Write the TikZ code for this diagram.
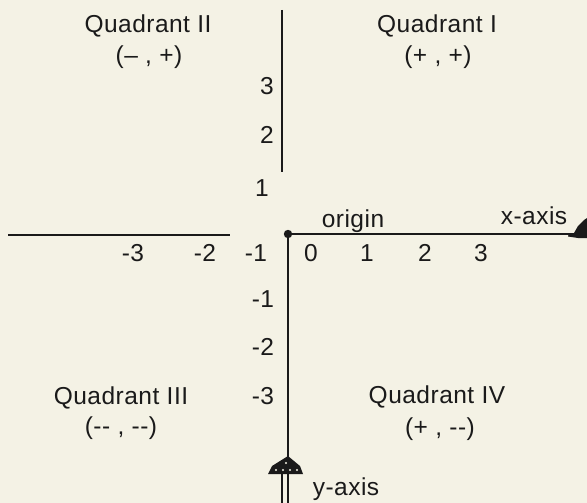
\documentclass[tikz,border=0pt]{standalone}
\usepackage{fontspec}
\newfontfamily\af{Liberation Sans}[LetterSpace=2]
\definecolor{bgc}{HTML}{F4F2E5}
\definecolor{ink}{HTML}{1A1A1A}
\tikzset{
  lbl/.style={inner sep=0pt, anchor=base, font=\af\fontsize{24.5}{28}\selectfont, text=ink},
  axisline/.style={draw=ink, line width=1.7pt}
}
\begin{document}
\begin{tikzpicture}[x=1pt,y=-1pt]
\fill[bgc] (0,0) rectangle (587,503);
\useasboundingbox (0,0) rectangle (587,503);
% coordinates
\coordinate (xl0) at (8,235);
\coordinate (xl1) at (230,235);
\coordinate (o) at (288,234);
\coordinate (xr) at (582,234);
\coordinate (yu0) at (282,10);
\coordinate (yu1) at (282,172);
\coordinate (yd0) at (288,236);
\coordinate (yd1) at (288,503);
\coordinate (yd2) at (282,473);
\coordinate (yd3) at (282,503);
% axes
\draw[axisline] (xl0) -- (xl1);
\draw[axisline] (o) -- (xr);
\draw[axisline] (yu0) -- (yu1);
\draw[axisline] (yd0) -- (yd1);
\draw[axisline, line width=1.4pt] (yd2) -- (yd3);
\fill[ink] (o) circle (4.2);
% arrowheads
\fill[ink] (568,235.5) -- (574,233) -- (578,226) -- (584,220) -- (587,218) -- (587,238) -- (578,238) -- (568,236.5) -- cycle;
\fill[ink] (288,456) -- (300,466) -- (303,474) -- (268,474) -- (272,466) -- cycle;
\fill[bgc] (276,470) circle (1.1) (283,470) circle (1.1) (290,470) circle (1.1) (297,470) circle (1.1) (286,463) circle (1.1);
% quadrant labels
\node[lbl] (q2) at (148,33) {Quadrant II};
\node[lbl] (q2s) at (149,64) {(– , +)};
\node[lbl] (q1) at (437,33) {Quadrant I};
\node[lbl] (q1s) at (438,64) {(+ , +)};
\node[lbl] (q3) at (121,404) {Quadrant III};
\node[lbl] (q3s) at (121,434) {(-- , --)};
\node[lbl] (q4) at (437,403) {Quadrant IV};
\node[lbl] (q4s) at (440,435) {(+ , --)};
% axis names
\node[lbl] (orig) at (353,227) {origin};
\node[lbl] (xax) at (534,224) {x-axis};
\node[lbl] (yax) at (346,495) {y-axis};
% x numbers
\node[lbl] (xm3) at (133,261) {-3};
\node[lbl] (xm2) at (205,261) {-2};
\node[lbl] (xm1) at (256,261) {-1};
\node[lbl] (x0) at (311,261) {0};
\node[lbl] (x1) at (367,261) {1};
\node[lbl] (x2) at (425,261) {2};
\node[lbl] (x3) at (481,261) {3};
% y numbers
\node[lbl] (y3) at (267,95) {3};
\node[lbl] (y2) at (267,143) {2};
\node[lbl] (y1) at (262,196) {1};
\node[lbl] (ym1) at (263,307) {-1};
\node[lbl] (ym2) at (263,355) {-2};
\node[lbl] (ym3) at (263,404) {-3};
\end{tikzpicture}
\end{document}
